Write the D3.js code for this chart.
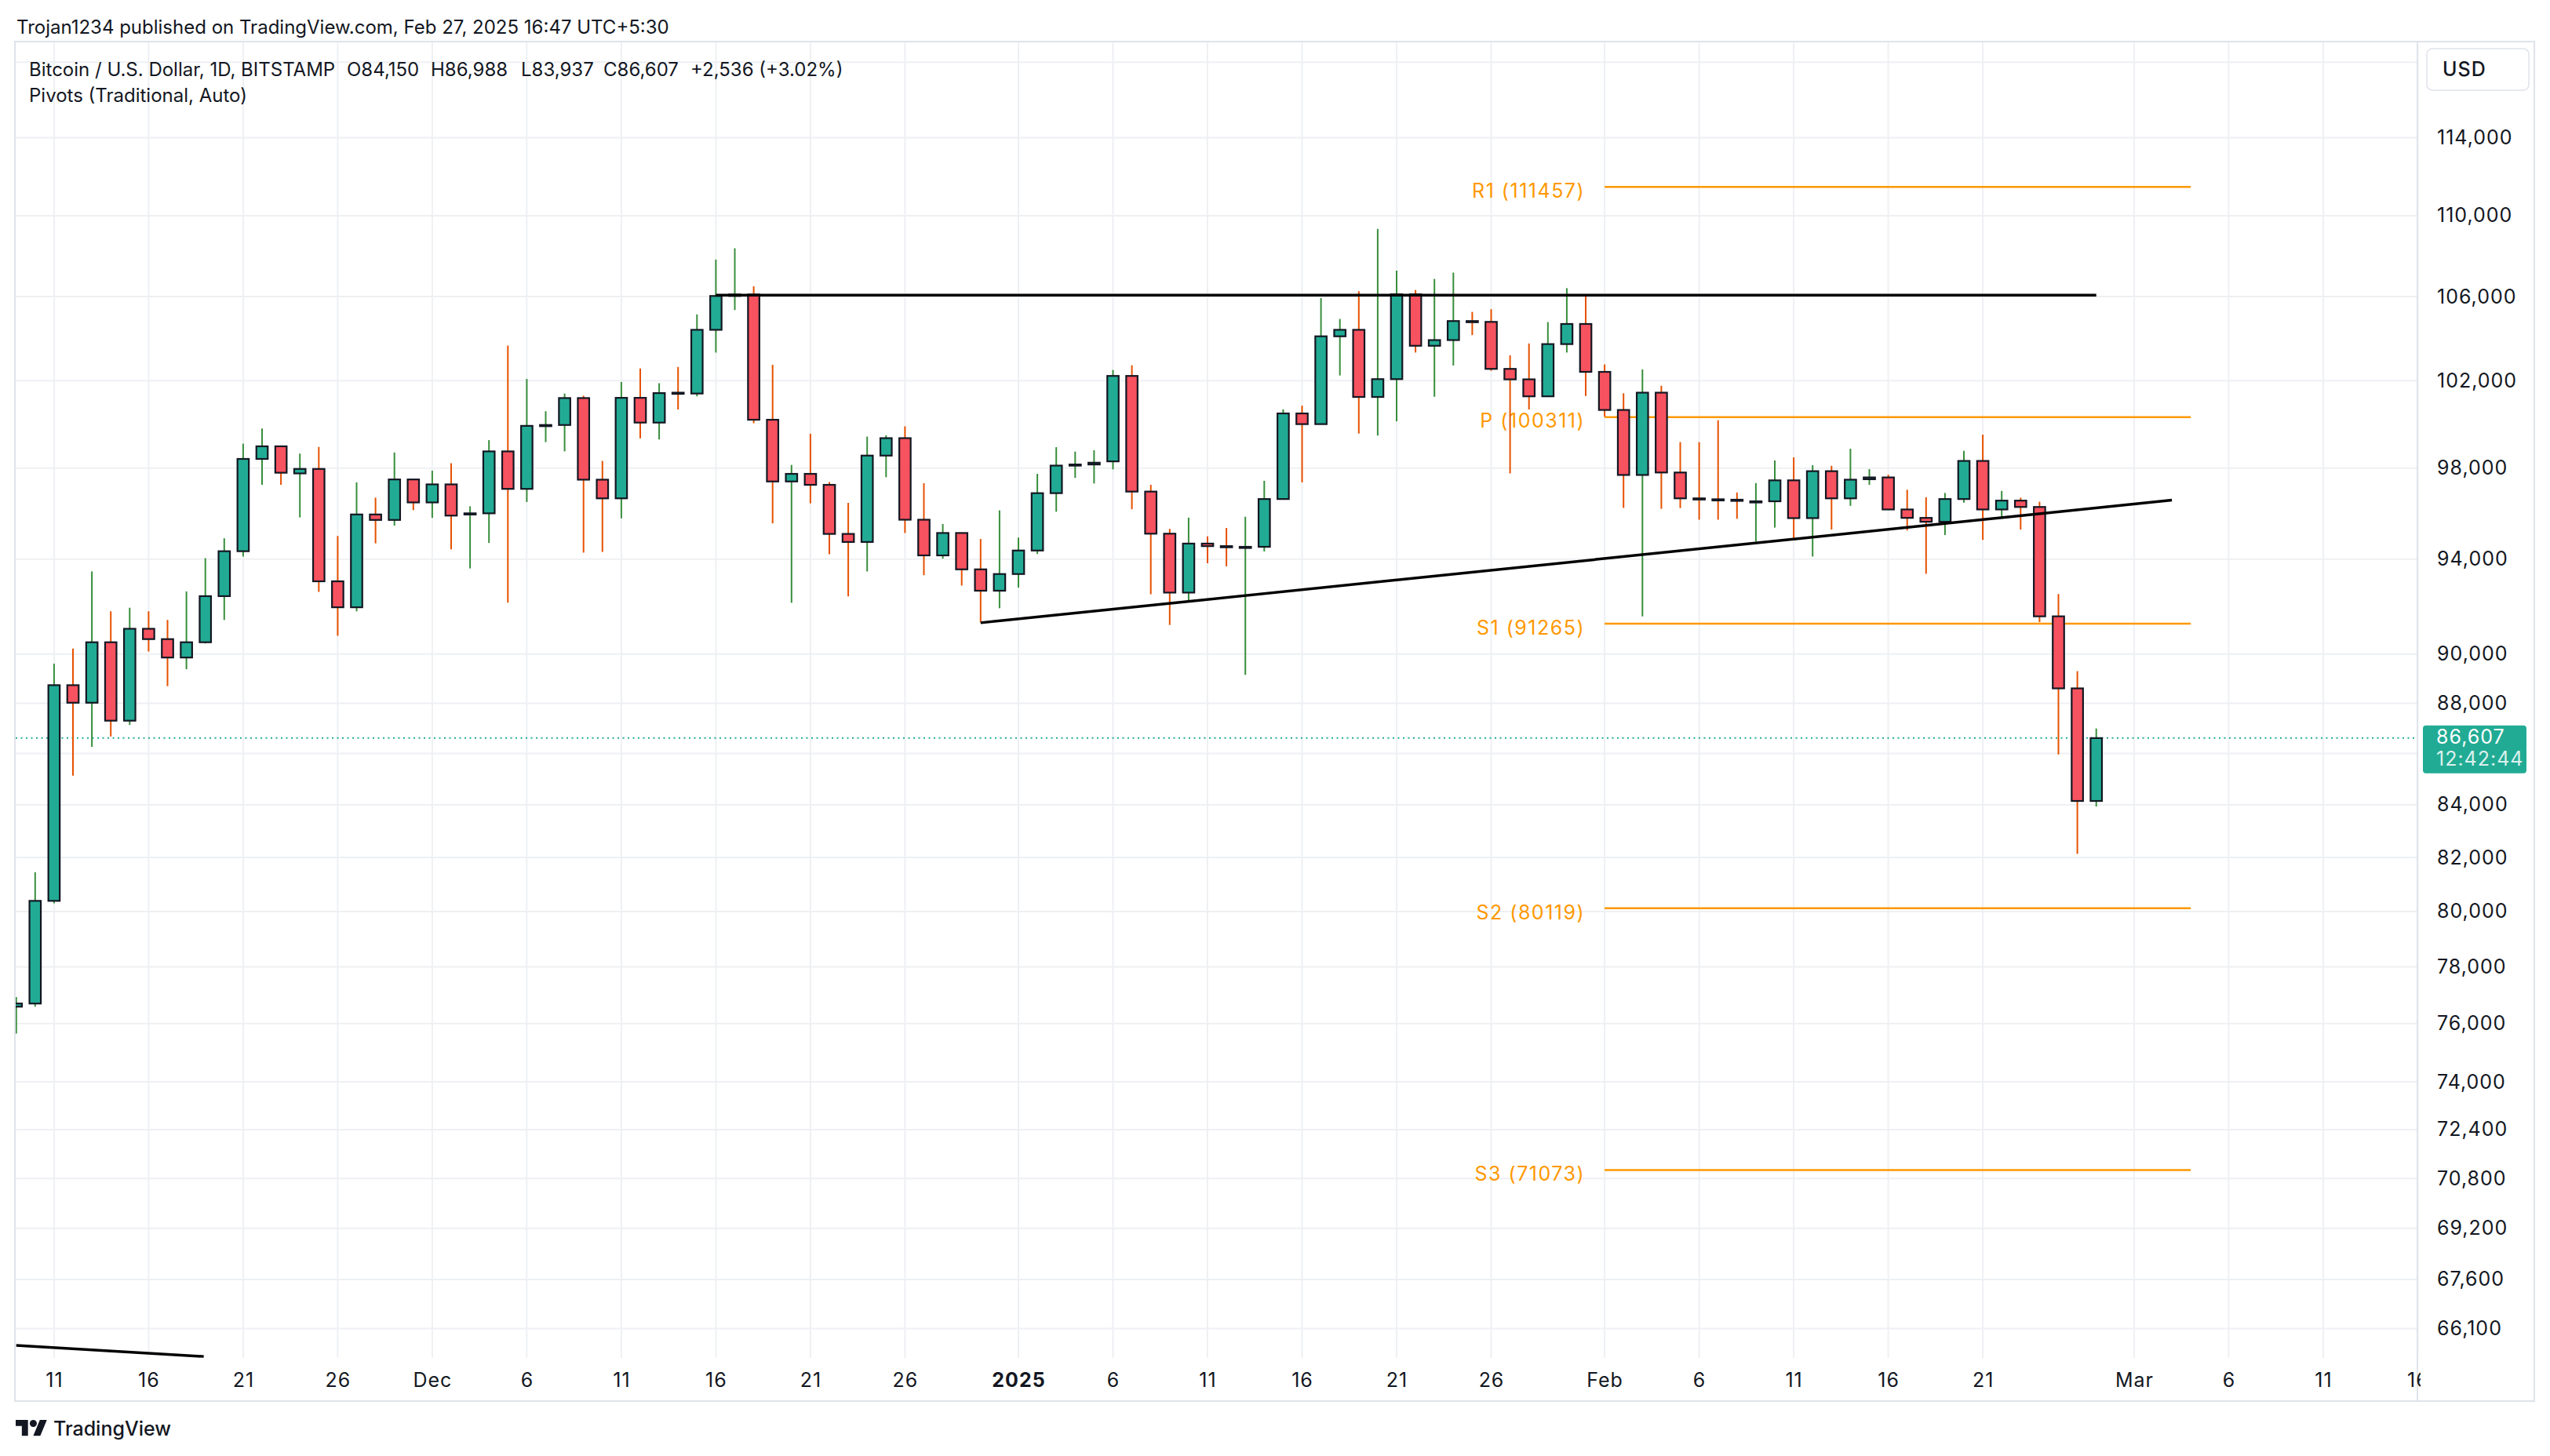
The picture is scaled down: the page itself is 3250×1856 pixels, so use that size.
<!DOCTYPE html>
<html>
<head>
<meta charset="utf-8">
<script src="https://cdn.jsdelivr.net/npm/d3@7"></script>
<style>
  html, body { margin: 0; padding: 0; background: #fff; }
  svg { display: block; }
  text { font-family: Inter, "Noto Sans", sans-serif; fill: #131722; }
</style>
</head>
<body>
<svg id="chart" width="3250" height="1856"></svg>
<script>
// BITSTAMP BTCUSD daily, first candle 2024-11-09, last 2025-02-27
var firstDay = "2024-11-09";
var opens = [76590, 76700, 80390, 88730, 88020, 90490, 87300, 91050, 90620, 89860,
  90490, 92420, 94340, 98410, 98980, 97760, 97960, 93050, 91950, 95940,
  95700, 97490, 96470, 97270, 95950, 95990, 98750, 97070, 99910, 99950,
  101190, 97480, 96650, 101200, 100060, 101440, 101400, 104400, 106030, 106100,
  100190, 97400, 97740, 97250, 95090, 94740, 98560, 99350, 95710, 94160,
  95130, 93560, 92650, 93360, 94370, 96880, 98110, 98160, 98300, 102220,
  96950, 95100, 92570, 94670, 94560, 94500, 94530, 96620, 100480, 99990,
  104090, 104400, 101240, 102070, 106110, 103640, 103910, 104820, 104780, 102550,
  102060, 101270, 103720, 104680, 102410, 100640, 97690, 101440, 97800, 96650,
  96610, 96590, 96500, 96520, 97450, 95780, 97860, 96650, 97500, 97580,
  96160, 95790, 95620, 96620, 98320, 96160, 96550, 96270, 91570, 88600,
  84150];
var highs = [76930, 81450, 89610, 90230, 93470, 91780, 91930, 91780, 91420, 92620,
  94040, 94900, 99100, 99790, 98990, 98650, 98950, 95000, 97360, 96680,
  98700, 97500, 97880, 98220, 96300, 99260, 103650, 102080, 100580, 101400,
  101300, 98320, 101940, 102570, 101880, 102640, 105140, 107810, 108370, 106500,
  102740, 98140, 99550, 97370, 96450, 99420, 99480, 99890, 97320, 95520,
  95150, 94870, 96120, 94930, 97740, 98940, 98740, 98800, 102500, 102720,
  97250, 95310, 95800, 94980, 95350, 95840, 97430, 100670, 100840, 105930,
  104920, 106260, 109340, 107270, 106320, 106860, 107170, 105260, 105390, 103190,
  103750, 104770, 106410, 106050, 102760, 101410, 102520, 101760, 99170, 99170,
  100170, 96910, 97330, 98340, 98480, 98130, 98100, 98870, 97950, 97700,
  97030, 96700, 96890, 98770, 99510, 96980, 96680, 96500, 92510, 89300,
  86988];
var lows = [75650, 76590, 80300, 85130, 86260, 86670, 87130, 90110, 88690, 89380,
  90440, 91420, 94110, 97250, 97250, 95810, 92600, 90760, 91780, 94680,
  95450, 96130, 95790, 94420, 93600, 94700, 92140, 96490, 99170, 98750,
  94280, 94310, 95770, 99340, 99290, 100660, 101270, 103320, 105350, 100030,
  95550, 92140, 96430, 94210, 92410, 93470, 97590, 95130, 93310, 94020,
  92870, 91320, 91910, 92780, 94220, 96060, 97560, 97310, 97940, 96170,
  92500, 91210, 92250, 93820, 93690, 89150, 94330, 96600, 97360, 99990,
  102240, 99560, 99470, 100120, 103320, 101250, 102710, 104150, 102460, 97760,
  100660, 101260, 103320, 101290, 100330, 96230, 91570, 96190, 96220, 95710,
  95710, 95750, 94760, 95370, 94890, 94110, 95280, 96320, 97250, 96130,
  95240, 93370, 95040, 96460, 94830, 95780, 95280, 91330, 85960, 82140,
  83937];
var closes = [76700, 80390, 88730, 88020, 90490, 87300, 91050, 90620, 89860, 90490,
  92420, 94340, 98410, 98980, 97790, 97960, 93050, 91950, 95940, 95700,
  97490, 96470, 97270, 95890, 95990, 98750, 97070, 99910, 99950, 101190,
  97480, 96650, 101200, 100060, 101420, 101400, 104400, 106030, 106100, 100190,
  97400, 97740, 97250, 95090, 94740, 98560, 99350, 95710, 94160, 95130,
  93560, 92650, 93360, 94370, 96880, 98110, 98160, 98240, 102220, 96950,
  95100, 92570, 94670, 94560, 94520, 94530, 96620, 100480, 99990, 104090,
  104400, 101240, 102070, 106110, 103640, 103910, 104820, 104780, 102550, 102060,
  101270, 103720, 104680, 102410, 100640, 97690, 101440, 97800, 96650, 96610,
  96590, 96550, 96520, 97450, 95780, 97860, 96650, 97480, 97580, 96160,
  95790, 95620, 96620, 98320, 96160, 96550, 96270, 91570, 88600, 84150,
  86607];

var priceTicks = [118000, 114000, 110000, 106000, 102000, 98000, 94000, 90000, 88000, 86000,
  84000, 82000, 80000, 78000, 76000, 74000, 72400, 70800, 69200, 67600, 66100];
var coveredTicks = [118000, 86000]; // hidden behind the USD and last price boxes
var timeTicks = ["2024-11-11", "2024-11-16", "2024-11-21", "2024-11-26", "2024-12-01", "2024-12-06",
  "2024-12-11", "2024-12-16", "2024-12-21", "2024-12-26", "2025-01-01", "2025-01-06", "2025-01-11",
  "2025-01-16", "2025-01-21", "2025-01-26", "2025-02-01", "2025-02-06", "2025-02-11", "2025-02-16",
  "2025-02-21", "2025-03-01", "2025-03-06", "2025-03-11", "2025-03-16"];
var timeLabels = ["11", "16", "21", "26", "Dec", "6", "11", "16", "21", "26", "2025", "6", "11",
  "16", "21", "26", "Feb", "6", "11", "16", "21", "Mar", "6", "11", "16"];

var pivotNames = ["R1", "P", "S1", "S2", "S3"];
var pivotValues = [111457, 100311, 91265, 80119, 71073];
var pivotSpan = ["2025-02-01", "2025-03-04"];

// drawn lines: [date, price] pairs
var resistanceLine = [["2024-12-16", 106070], ["2025-02-27", 106070]];
var supportLine = [["2024-12-30", 91300], ["2025-03-03", 96570]];
var oldLine = [["2024-11-09", 65590], ["2024-11-18T22:00", 65260]];

var lastPrice = 86607;
var countdown = "12:42:44";

var upBody = "#22ab94", downBody = "#f7525f", upWick = "#388e3c", downWick = "#e65100";
var gridColor = "#eef0f3", frameColor = "#e0e3eb", pivotColor = "#ff9800";

var svg = d3.select("#chart");
var pane = { left: 20, right: 3081, top: 53, bottom: 1731 };

var parseDay = d3.utcParse("%Y-%m-%d");
var parseTime = d3.utcParse("%Y-%m-%dT%H:%M");
function toDate(s) { return s.length > 10 ? parseTime(s) : parseDay(s); }

var x = d3.scaleUtc()
  .domain([parseDay("2024-11-11"), parseDay("2025-03-16")])
  .range([68.9, 3081.4]);
var y = d3.scaleLog()
  .domain([114000, 66100])
  .range([175.4, 1693.5]);

var start = parseDay(firstDay);
var days = d3.utcDay.range(start, d3.utcDay.offset(start, opens.length));
var candles = days.map(function (d, i) {
  return { date: d, o: opens[i], h: highs[i], l: lows[i], c: closes[i] };
});

var defs = svg.append("defs");
defs.append("clipPath").attr("id", "paneClip")
  .append("rect")
  .attr("x", pane.left).attr("y", pane.top)
  .attr("width", pane.right - pane.left).attr("height", pane.bottom - pane.top);
defs.append("clipPath").attr("id", "timeClip")
  .append("rect")
  .attr("x", pane.left).attr("y", 0)
  .attr("width", pane.right - pane.left + 4).attr("height", 54);

// grid
var grid = svg.append("g");
grid.selectAll(".hgrid").data(priceTicks).enter().append("line")
  .attr("x1", pane.left).attr("x2", pane.right)
  .attr("y1", function (d) { return y(d); }).attr("y2", function (d) { return y(d); })
  .attr("stroke", gridColor).attr("stroke-width", 2);
grid.selectAll(".vgrid").data(timeTicks).enter().append("line")
  .attr("x1", function (d) { return x(toDate(d)); }).attr("x2", function (d) { return x(toDate(d)); })
  .attr("y1", pane.top).attr("y2", pane.bottom)
  .attr("stroke", gridColor).attr("stroke-width", 2);

// frame
svg.append("rect")
  .attr("x", 19).attr("y", 53).attr("width", 3230 - 19).attr("height", 1786 - 53)
  .attr("fill", "none").attr("stroke", frameColor).attr("stroke-width", 2);
svg.append("line")
  .attr("x1", pane.right).attr("x2", pane.right).attr("y1", pane.top).attr("y2", 1786)
  .attr("stroke", frameColor).attr("stroke-width", 2);

var plot = svg.append("g").attr("clip-path", "url(#paneClip)");

// last price dotted line
plot.append("line")
  .attr("x1", pane.left).attr("x2", pane.right)
  .attr("y1", y(lastPrice)).attr("y2", y(lastPrice))
  .attr("stroke", upBody).attr("stroke-width", 2).attr("stroke-dasharray", "2,4.5");

// pivots
var pivots = pivotNames.map(function (n, i) { return { name: n, value: pivotValues[i] }; });
var pv = plot.append("g");
pv.selectAll("line").data(pivots).enter().append("line")
  .attr("x1", x(toDate(pivotSpan[0]))).attr("x2", x(toDate(pivotSpan[1])))
  .attr("y1", function (d) { return y(d.value); }).attr("y2", function (d) { return y(d.value); })
  .attr("stroke", pivotColor).attr("stroke-width", 2.5);
pv.selectAll("text").data(pivots).enter().append("text")
  .attr("x", x(toDate(pivotSpan[0])) - 25)
  .attr("y", function (d) { return y(d.value); })
  .attr("dy", "0.55em")
  .attr("text-anchor", "end")
  .style("font-size", "25px")
  .style("letter-spacing", "1.5px")
  .style("fill", pivotColor)
  .text(function (d) { return d.name + " (" + d.value + ")"; });

// candles
var bodyW = 14.5;
var cg = plot.append("g");
cg.selectAll(".wick").data(candles).enter().append("line")
  .attr("x1", function (d) { return x(d.date); }).attr("x2", function (d) { return x(d.date); })
  .attr("y1", function (d) { return y(d.h); }).attr("y2", function (d) { return y(d.l); })
  .attr("stroke", function (d) { return d.c >= d.o ? upWick : downWick; })
  .attr("stroke-width", 2);
cg.selectAll(".body").data(candles).enter().append("rect")
  .attr("x", function (d) { return x(d.date) - bodyW / 2; })
  .attr("y", function (d) { return Math.min(y(d.o), y(d.c)); })
  .attr("width", bodyW)
  .attr("height", function (d) { return Math.max(Math.abs(y(d.o) - y(d.c)), 1.5); })
  .attr("fill", function (d) { return d.c >= d.o ? upBody : downBody; })
  .attr("stroke", "#131722").attr("stroke-width", 2.2);

// trend lines
var lineGen = d3.line()
  .x(function (p) { return x(toDate(p[0])); })
  .y(function (p) { return y(p[1]); });
[resistanceLine, supportLine, oldLine].forEach(function (pts) {
  plot.append("path").attr("d", lineGen(pts))
    .attr("fill", "none").attr("stroke", "#000").attr("stroke-width", 3.5);
});

// price axis
var yAxis = svg.append("g")
  .attr("transform", "translate(" + pane.right + ",0)")
  .call(d3.axisRight(y).tickValues(priceTicks).tickSize(0).tickPadding(25)
    .tickFormat(function (d) { return coveredTicks.indexOf(d) >= 0 ? "" : d3.format(",")(d); }));
yAxis.select(".domain").remove();
yAxis.selectAll("text").style("font-size", "25px").style("letter-spacing", "1px")
  .attr("fill", "#131722").style("font-family", "Inter, sans-serif");

// time axis
var xAxis = svg.append("g")
  .attr("transform", "translate(0," + pane.bottom + ")")
  .attr("clip-path", "url(#timeClip)")
  .call(d3.axisBottom(x)
    .tickValues(timeTicks.map(toDate))
    .tickSize(0).tickPadding(19)
    .tickFormat(function (d, i) { return timeLabels[i]; }));
xAxis.select(".domain").remove();
xAxis.selectAll("text").style("font-size", "25px").style("letter-spacing", "1px")
  .attr("fill", "#131722")
  .style("font-family", "Inter, sans-serif")
  .style("font-weight", function (d, i) { return timeLabels[i] === "2025" ? 700 : 400; });

// USD box
svg.append("rect").attr("x", 3093).attr("y", 62).attr("width", 130).attr("height", 53)
  .attr("rx", 7).attr("fill", "#fff").attr("stroke", frameColor).attr("stroke-width", 1.5);
svg.append("text").attr("x", 3113).attr("y", 97).style("font-size", "25px").style("font-weight", 500)
  .style("letter-spacing", "1px").text("USD");

// last price box
var ly = y(lastPrice);
svg.append("rect").attr("x", 3088).attr("y", ly - 16).attr("width", 132).attr("height", 61)
  .attr("rx", 4).attr("fill", upBody);
svg.append("text").attr("x", 3105).attr("y", ly + 7).style("font-size", "25px").style("letter-spacing", "1px")
  .style("fill", "#fff").text(d3.format(",")(lastPrice));
svg.append("text").attr("x", 3105).attr("y", ly + 35).style("font-size", "25px").style("letter-spacing", "1px")
  .style("fill", "rgba(255,255,255,0.85)").text(countdown);

// header
svg.append("text").attr("x", 21).attr("y", 43).style("font-size", "24px")
  .text("Trojan1234 published on TradingView.com, Feb 27, 2025 16:47 UTC+5:30");
var legend = [
  { x: 37, t: "Bitcoin / U.S. Dollar, 1D, BITSTAMP" },
  { x: 442, t: "O84,150" },
  { x: 549, t: "H86,988" },
  { x: 664, t: "L83,937" },
  { x: 769, t: "C86,607" },
  { x: 880, t: "+2,536 (+3.02%)" }
];
svg.selectAll(".legend").data(legend).enter().append("text")
  .attr("x", function (d) { return d.x; }).attr("y", 97)
  .style("font-size", "24px")
  .text(function (d) { return d.t; });
svg.append("text").attr("x", 37).attr("y", 130).style("font-size", "24px")
  .text("Pivots (Traditional, Auto)");

// footer logo
var logo = svg.append("g").attr("transform", "translate(20,1805.5) scale(1.12)");
logo.append("path").attr("d", "M14 22H7V11H0V4h14v18zM28 22h-8l7.5-18h8L28 22z").attr("fill", "#131722");
logo.append("circle").attr("cx", 20).attr("cy", 8).attr("r", 4).attr("fill", "#131722");
svg.append("text").attr("x", 68).attr("y", 1830).style("font-size", "25px").style("font-weight", 500)
  .text("TradingView");
</script>
</body>
</html>
